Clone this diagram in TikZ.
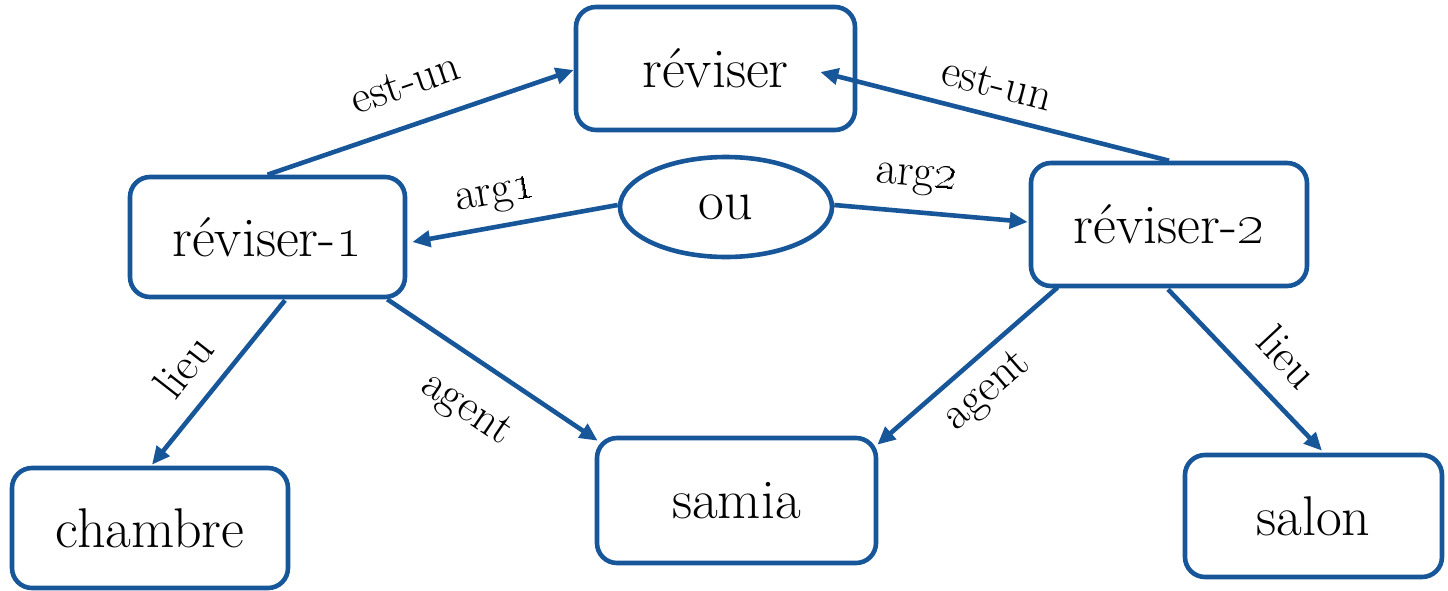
\documentclass[tikz,border=0pt]{standalone}
\usetikzlibrary{arrows.meta,calc,shapes.geometric}
\definecolor{edgeblue}{RGB}{23,86,152}
\begin{document}
\begin{tikzpicture}[x=0.5pt,y=-0.5pt,
  box/.style={draw=edgeblue, line width=2.3pt, rounded corners=10pt, fill=white,
    inner sep=0pt, font=\fontsize{28}{32}\selectfont},
  oval/.style={draw=edgeblue, line width=2.3pt, ellipse, fill=white, inner sep=0pt,
    minimum width=106pt, minimum height=50pt, font=\fontsize{28}{32}\selectfont},
  conn/.style={draw=edgeblue, line width=2.3pt, -{Triangle[length=9pt,width=8pt]}},
  lbl/.style={inner sep=0pt, font=\fontsize{23}{26}\selectfont}]
\useasboundingbox[fill=white] (0,0) rectangle (1448,590);
% nodes
\node[box, minimum width=139.5pt, minimum height=61.5pt] (rv) at (715.5,68.5) {réviser};
\node[box, minimum width=137.5pt, minimum height=60pt] (r1) at (267.5,237) {réviser-\oldstylenums{1}};
\node[box, minimum width=138pt, minimum height=61.5pt] (r2) at (1169,224.5) {réviser-\oldstylenums{2}};
\node[oval] (ou) at (726,207) {ou};
\node[box, minimum width=138pt, minimum height=60pt] (ch) at (150,528) {chambre};
\node[box, minimum width=139.5pt, minimum height=62.5pt] (sa) at (736.5,500.5) {samia};
\node[box, minimum width=128.5pt, minimum height=61pt] (sl) at (1313.5,516) {salon};
% connectors
\draw[conn] (r1.north) -- ($(rv.west)+(0,1.5)$);
\draw[conn] (r2.north) -- ($(rv.east)+(-37,3.5)$);
\draw[conn] ($(ou.west)+(0,-2)$) -- ($(r1.east)+(5,5)$);
\draw[conn] ($(ou.east)+(0,-2)$) -- ($(r2.west)+(-1,-2.5)$);
\draw[conn] ($(r1.south)+(17.5,1)$) -- ($(ch.north)+(2,-1)$);
\draw[conn] ($(r1.south east)+(-20,0)$) -- ($(sa.north west)+(3,5)$);
\draw[conn] ($(r2.south west)+(29,-1)$) -- ($(sa.north east)+(-1,9)$);
\draw[conn] ($(r2.south)+(-1,1)$) -- ($(sl.north)+(8.5,-2)$);
% labels
\node[lbl, rotate=19] (l1) at (405,83) {est-un};
\node[lbl, rotate=-14.6] (l2) at (997,84) {est-un};
\node[lbl, rotate=10] (l3) at (496,198) {arg\oldstylenums{1}};
\node[lbl, rotate=-5] (l4) at (916,180) {arg\oldstylenums{2}};
\node[lbl, rotate=52] (l5) at (183,366) {lieu};
\node[lbl, rotate=-34] (l6) at (466,410) {agent};
\node[lbl, rotate=41] (l7) at (988,392) {agent};
\node[lbl, rotate=-47] (l8) at (1288,357) {lieu};
\end{tikzpicture}
\end{document}
